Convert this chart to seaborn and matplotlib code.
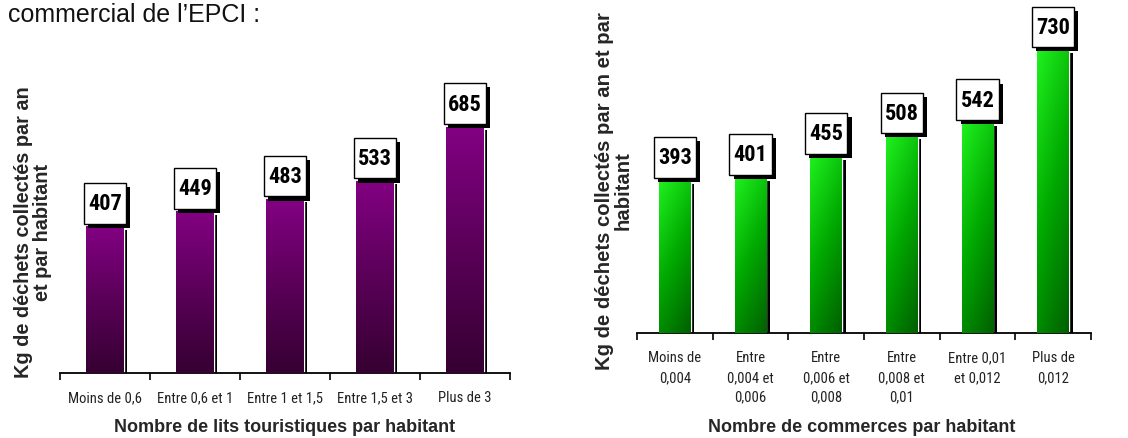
import numpy as np
import pandas as pd
import seaborn as sns
import matplotlib.pyplot as plt
import matplotlib.patheffects as pe
from matplotlib.path import Path
from matplotlib.colors import LinearSegmentedColormap

# Data
lits_cats = ['Moins de 0,6', 'Entre 0,6 et 1', 'Entre 1 et 1,5', 'Entre 1,5 et 3', 'Plus de 3']
lits_vals = [407, 449, 483, 533, 685]

comm_cats = ['Moins de\n0,004', 'Entre\n0,004 et\n0,006', 'Entre\n0,006 et\n0,008',
             'Entre\n0,008 et\n0,01', 'Entre 0,01\net 0,012', 'Plus de\n0,012']
comm_vals = [393, 401, 455, 508, 542, 730]

ylab_left = 'Kg de déchets collectés par an\net par habitant'
ylab_right = 'Kg de déchets collectés par an et par\nhabitant'
xlab_left = 'Nombre de lits touristiques par habitant'
xlab_right = 'Nombre de commerces par habitant'

sns.set_style('white')
plt.rcParams['font.family'] = ['Liberation Sans', 'DejaVu Sans']
narrow = ['Roboto Condensed', 'Liberation Sans', 'DejaVu Sans']

W, H = 1128, 439
fig = plt.figure(figsize=(W / 100, H / 100), dpi=100)


def px_axes(x0, x1, ybase, scale, ymax):
    hpx = ymax * scale
    return fig.add_axes([x0 / W, 1 - ybase / H, (x1 - x0) / W, hpx / H])


# box with more padding top/bottom than left/right
def tallbox(x0, y0, width, height, mutation_size):
    px, py = 0.19 * mutation_size, 0.42 * mutation_size
    a, b = x0 - px, x0 + width + px
    c, d = y0 - py, y0 + height + py
    return Path([(a, c), (b, c), (b, d), (a, d), (a, c)],
                [Path.MOVETO, Path.LINETO, Path.LINETO, Path.LINETO, Path.CLOSEPOLY])


purple = LinearSegmentedColormap.from_list('p', ['#360032', '#5a0058', '#820082'])
green = LinearSegmentedColormap.from_list('g', ['#006000', '#00a800', '#1ff01f'])


def draw(ax, cats, vals, cmap, diag, pad):
    df = pd.DataFrame({'cat': cats, 'val': vals})
    sns.barplot(data=df, x='cat', y='val', ax=ax, width=0.42, color='black',
                saturation=1)
    ymax = 800
    n = len(cats)
    for p in ax.patches:
        p.set_path_effects([pe.SimplePatchShadow(offset=(2.5, -2.0), shadow_rgbFace='black',
                                                 alpha=1.0), pe.Normal()])
        x, w, h = p.get_x(), p.get_width(), p.get_height()
        yy, xx = np.mgrid[0:1:100j, 0:1:30j]
        if diag:
            g = 0.7 * yy + 0.3 * (1 - xx)
        else:
            g = yy
        ax.imshow(g, cmap=cmap, origin='lower', extent=[x, x + w, 0, h],
                  aspect='auto', zorder=3, interpolation='bilinear')
    # value labels in white boxes with a black drop shadow
    for i, v in enumerate(vals):
        t = ax.annotate(str(v), xy=(i, v), xytext=(0, 9), textcoords='offset points',
                        ha='center', va='bottom', fontsize=16, fontweight='bold',
                        family=narrow, color='black', zorder=5, annotation_clip=False,
                        bbox=dict(boxstyle=tallbox, fc='white', ec='black', lw=1))
        t.get_bbox_patch().set_path_effects([
            pe.SimplePatchShadow(offset=(3, -3), shadow_rgbFace='black', alpha=1.0),
            pe.Normal()])
    ax.set_xlim(-0.5, n - 0.5)
    ax.set_ylim(0, ymax)
    for s in ['top', 'right', 'left']:
        ax.spines[s].set_visible(False)
    ax.spines['bottom'].set_color('black')
    ax.spines['bottom'].set_linewidth(1.3)
    ax.set_yticks([])
    ax.set_xticks(np.arange(n + 1) - 0.5)
    ax.set_xticklabels([])
    ax.tick_params(axis='x', which='major', direction='out', length=5, width=1.2,
                   color='black', bottom=True)
    ax.set_xticks(np.arange(n), minor=True)
    ax.set_xticklabels(cats, minor=True, fontsize=10.5, family=narrow, color='#222222',
                       linespacing=1.5, va='top')
    ax.tick_params(axis='x', which='minor', length=0, pad=pad)
    ax.set_xlabel('')
    ax.set_ylabel('')


ax1 = px_axes(60, 510, 374, 0.359, 800)
draw(ax1, lits_cats, lits_vals, purple, False, 12.5)
ax2 = px_axes(637, 1091, 334, 0.387, 800)
draw(ax2, comm_cats, comm_vals, green, True, 12.5)

fig.text(8 / W, 1 - 22 / H, "commercial de l\u2019EPCI :", fontsize=18, va='baseline',
         ha='left', color='#111111')
fig.text(33 / W, 1 - 232 / H, ylab_left, rotation=90, ha='center', va='center',
         fontsize=14.3, fontweight='bold', linespacing=1.0, multialignment='center')
fig.text(614 / W, 1 - 191 / H, ylab_right, rotation=90, ha='center', va='center',
         fontsize=14.6, fontweight='bold', linespacing=1.0, multialignment='center')
fig.text(285 / W, 1 - 428 / H, xlab_left, ha='center', va='center',
         fontsize=13, fontweight='bold')
fig.text(862 / W, 1 - 428 / H, xlab_right, ha='center', va='center',
         fontsize=13, fontweight='bold')

fig.savefig('out.png', dpi=100)
